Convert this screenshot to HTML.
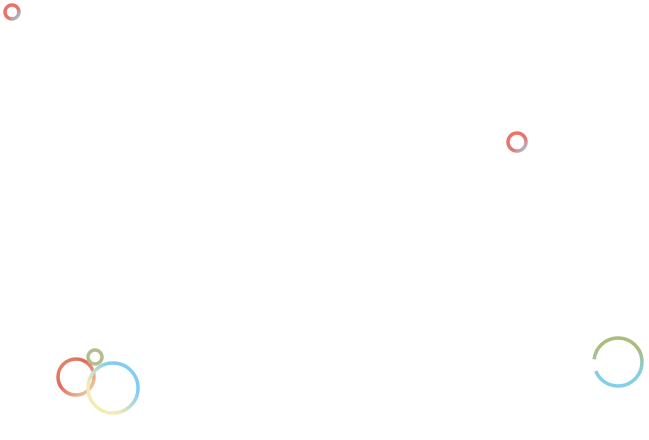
<!DOCTYPE html>
<html><head><meta charset="utf-8"><style>html,body{margin:0;padding:0;background:#fff;}svg{display:block}</style></head>
<body>
<svg width="649" height="440" viewBox="0 0 649 440" xmlns="http://www.w3.org/2000/svg">
<defs>
<linearGradient id="gb" x1="0" y1="0" x2="0" y2="1"><stop offset="0.25" stop-color="#9cb06a"/><stop offset="0.75" stop-color="#6fc6e4"/></linearGradient>
<linearGradient id="ro" x1="0" y1="0" x2="1" y2="1"><stop offset="0" stop-color="#e07b5a"/><stop offset="0.4" stop-color="#e04a3c"/><stop offset="1" stop-color="#e8d8a0"/></linearGradient>
<linearGradient id="by" x1="1" y1="0" x2="0" y2="1"><stop offset="0.3" stop-color="#6cc4ee"/><stop offset="0.7" stop-color="#f2e8a8"/></linearGradient>
<linearGradient id="rr" x1="0" y1="0" x2="1" y2="1"><stop offset="0.6" stop-color="#e65a4e"/><stop offset="1" stop-color="#8cc8e0"/></linearGradient>
</defs>
<g fill="none" stroke-width="3.5" opacity="0.85">
<circle cx="12" cy="12" r="7" stroke="url(#rr)"/>
<circle cx="517" cy="142" r="9" stroke="url(#rr)"/>
<circle cx="618" cy="362" r="24" stroke="url(#gb)" stroke-dasharray="66 12 200"/>
<circle cx="76" cy="377" r="18" stroke="url(#ro)"/>
<circle cx="113" cy="388" r="25" stroke="url(#by)"/>
<circle cx="95" cy="357" r="7" stroke="#a9b27a"/>
</g>
</svg>
</body></html>
